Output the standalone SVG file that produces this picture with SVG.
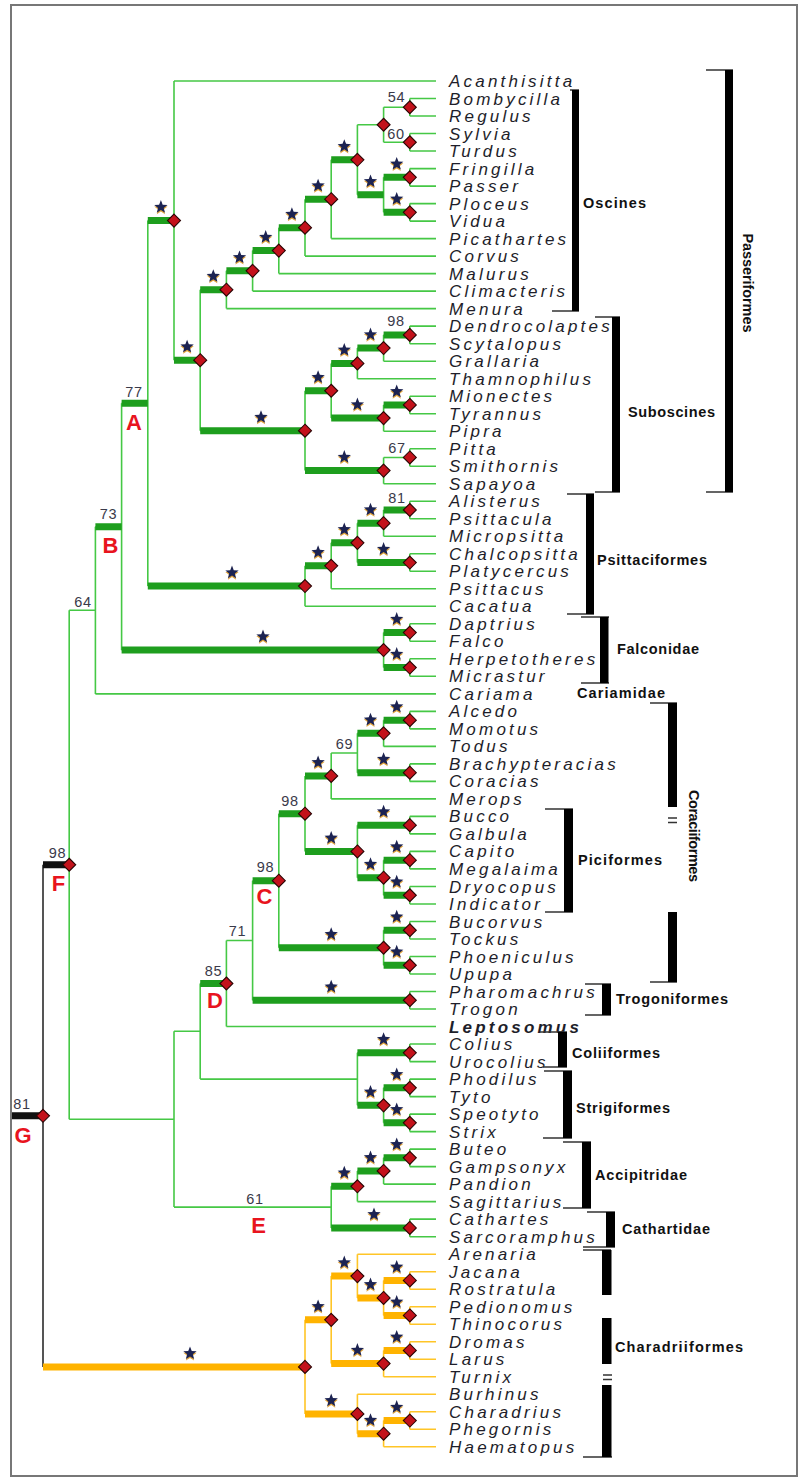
<svg xmlns="http://www.w3.org/2000/svg" xmlns:xlink="http://www.w3.org/1999/xlink" width="802" height="1479" viewBox="0 0 802 1479">
<style>
.t{fill:none;stroke:#45c845;stroke-width:1.6}
.to{fill:none;stroke:#ffc527;stroke-width:1.6}
.k{fill:none;stroke:#1e9e1e;stroke-width:7}
.ko{fill:none;stroke:#ffb300;stroke-width:7}
.kb{fill:none;stroke:#111;stroke-width:7}
.gv{fill:none;stroke:#555;stroke-width:2}
.br{fill:#000}
.tk{fill:none;stroke:#333;stroke-width:1.5}
.tx{font-family:"Liberation Sans",Arial,sans-serif;font-style:italic;font-size:17px;letter-spacing:3.2px;fill:#1e1e2a}
.bs{font-family:"Liberation Sans",Arial,sans-serif;font-size:14.5px;letter-spacing:0.8px;fill:#3a3a4a;text-anchor:middle}
.rl{font-family:"Liberation Sans",Arial,sans-serif;font-size:22px;font-weight:bold;fill:#e8141e;text-anchor:middle}
.cl{font-family:"Liberation Sans",Arial,sans-serif;font-size:14.5px;font-weight:bold;fill:#111}
</style>
<defs>
<polygon id="dm" points="0,-6.5 6.5,0 0,6.5 -6.5,0" fill="#c3121b" stroke="#2b0505" stroke-width="1.1"/>
<g id="st">
<polygon transform="translate(0,1.5)" fill="#e0a33a" points="0,-7 1.76,-2.43 6.66,-2.16 2.85,0.93 4.11,5.66 0,3 -4.11,5.66 -2.85,0.93 -6.66,-2.16 -1.76,-2.43"/>
<polygon fill="#1c2352" points="0,-7 1.76,-2.43 6.66,-2.16 2.85,0.93 4.11,5.66 0,3 -4.11,5.66 -2.85,0.93 -6.66,-2.16 -1.76,-2.43"/>
</g>
</defs>
<rect width="802" height="1479" fill="#fff"/>
<rect x="11" y="5" width="786" height="1471" fill="none" stroke="#777" stroke-width="2"/>

<g id="connectors">
<path class="t" d="M409.8 98.5V116M409.8 98.5H436M409.8 116H436
M409.8 133.5V151M409.8 133.5H436M409.8 151H436
M383.6 107.25V142.25M383.6 107.25H409.8M383.6 142.25H409.8
M409.8 168.6V186.1M409.8 168.6H436M409.8 186.1H436
M409.8 203.6V221.1M409.8 203.6H436M409.8 221.1H436
M383.6 177.35V212.35M383.6 177.35H409.8M383.6 212.35H409.8
M357.4 124.75V194.85M357.4 124.75H383.6M357.4 194.85H383.6
M331.2 159.8V238.6M331.2 159.8H357.4M331.2 238.6H436
M305 199.2V256.1M305 199.2H331.2M305 256.1H436
M278.8 227.65V273.6M278.8 227.65H305M278.8 273.6H436
M252.6 250.6V291.1M252.6 250.6H278.8M252.6 291.1H436
M226.4 270.85V308.6M226.4 270.85H252.6M226.4 308.6H436
M409.8 326.1V343.7M409.8 326.1H436M409.8 343.7H436
M383.6 334.9V361.2M383.6 334.9H409.8M383.6 361.2H436
M357.4 348.05V378.7M357.4 348.05H383.6M357.4 378.7H436
M409.8 396.2V413.7M409.8 396.2H436M409.8 413.7H436
M383.6 404.95V431.2M383.6 404.95H409.8M383.6 431.2H436
M331.2 363.4V418.1M331.2 363.4H357.4M331.2 418.1H383.6
M409.8 448.7V466.2M409.8 448.7H436M409.8 466.2H436
M383.6 457.45V483.7M383.6 457.45H409.8M383.6 483.7H436
M305 390.75V470.6M305 390.75H331.2M305 470.6H383.6
M200.2 289.7V430.7M200.2 289.7H226.4M200.2 430.7H305
M174 81V360.2M174 81H436M174 360.2H200.2
M409.8 501.2V518.8M409.8 501.2H436M409.8 518.8H436
M383.6 510V536.3M383.6 510H409.8M383.6 536.3H436
M409.8 553.8V571.3M409.8 553.8H436M409.8 571.3H436
M357.4 523.15V562.55M357.4 523.15H383.6M357.4 562.55H409.8
M331.2 542.85V588.8M331.2 542.85H357.4M331.2 588.8H436
M305 565.8V606.3M305 565.8H331.2M305 606.3H436
M147.8 220.6V586.05M147.8 220.6H174M147.8 586.05H305
M409.8 623.8V641.3M409.8 623.8H436M409.8 641.3H436
M409.8 658.8V676.3M409.8 658.8H436M409.8 676.3H436
M383.6 632.55V667.55M383.6 632.55H409.8M383.6 667.55H409.8
M121.6 403.3V650.05M121.6 403.3H147.8M121.6 650.05H383.6
M95.4 526.7V693.9M95.4 526.7H121.6M95.4 693.9H436
M409.8 711.4V728.9M409.8 711.4H436M409.8 728.9H436
M383.6 720.15V746.4M383.6 720.15H409.8M383.6 746.4H436
M409.8 763.9V781.4M409.8 763.9H436M409.8 781.4H436
M357.4 733.3V772.65M357.4 733.3H383.6M357.4 772.65H409.8
M331.2 752.95V798.9M331.2 752.95H357.4M331.2 798.9H436
M409.8 816.4V833.9M409.8 816.4H436M409.8 833.9H436
M409.8 851.4V868.9M409.8 851.4H436M409.8 868.9H436
M409.8 886.5V904M409.8 886.5H436M409.8 904H436
M383.6 860.15V895.25M383.6 860.15H409.8M383.6 895.25H409.8
M357.4 825.15V877.7M357.4 825.15H409.8M357.4 877.7H383.6
M305 775.9V851.45M305 775.9H331.2M305 851.45H357.4
M409.8 921.5V939M409.8 921.5H436M409.8 939H436
M409.8 956.5V974M409.8 956.5H436M409.8 974H436
M383.6 930.25V965.25M383.6 930.25H409.8M383.6 965.25H409.8
M278.8 813.7V947.75M278.8 813.7H305M278.8 947.75H383.6
M409.8 991.5V1009M409.8 991.5H436M409.8 1009H436
M252.6 880.7V1000.25M252.6 880.7H278.8M252.6 1000.25H409.8
M226.4 940.5V1026.5M226.4 940.5H252.6M226.4 1026.5H436
M409.8 1044V1061.6M409.8 1044H436M409.8 1061.6H436
M409.8 1079.1V1096.6M409.8 1079.1H436M409.8 1096.6H436
M409.8 1114.1V1131.6M409.8 1114.1H436M409.8 1131.6H436
M383.6 1087.85V1122.85M383.6 1087.85H409.8M383.6 1122.85H409.8
M357.4 1052.8V1105.35M357.4 1052.8H409.8M357.4 1105.35H383.6
M200.2 983.5V1079.1M200.2 983.5H226.4M200.2 1079.1H357.4
M409.8 1149.1V1166.6M409.8 1149.1H436M409.8 1166.6H436
M383.6 1157.85V1184.1M383.6 1157.85H409.8M383.6 1184.1H436
M357.4 1170.95V1201.6M357.4 1170.95H383.6M357.4 1201.6H436
M409.8 1219.1V1236.7M409.8 1219.1H436M409.8 1236.7H436
M331.2 1186.3V1227.9M331.2 1186.3H357.4M331.2 1227.9H409.8
M174 1031.3V1207.1M174 1031.3H200.2M174 1207.1H331.2
M69.2 610.3V1119.2M69.2 610.3H95.4M69.2 1119.2H174"/>
<path class="to" d="M409.8 1271.7V1289.2M409.8 1271.7H436M409.8 1289.2H436
M409.8 1306.7V1324.2M409.8 1306.7H436M409.8 1324.2H436
M383.6 1280.45V1315.45M383.6 1280.45H409.8M383.6 1315.45H409.8
M357.4 1254.2V1297.95M357.4 1254.2H436M357.4 1297.95H383.6
M409.8 1341.7V1359.2M409.8 1341.7H436M409.8 1359.2H436
M383.6 1350.45V1376.7M383.6 1350.45H409.8M383.6 1376.7H436
M331.2 1276.1V1363.6M331.2 1276.1H357.4M331.2 1363.6H383.6
M409.8 1411.8V1429.3M409.8 1411.8H436M409.8 1429.3H436
M383.6 1420.55V1446.8M383.6 1420.55H409.8M383.6 1446.8H436
M357.4 1394.2V1433.7M357.4 1394.2H436M357.4 1433.7H383.6
M305 1319.85V1413.95M305 1319.85H331.2M305 1413.95H357.4"/>
<path class="gv" d="M43 864.75V1366.9"/>
<path class="k" d="M383.6 177.35H409.8M383.6 212.35H409.8M357.4 194.85H383.6M331.2 159.8H357.4M305 199.2H331.2M278.8 227.65H305M252.6 250.6H278.8M226.4 270.85H252.6M200.2 289.7H226.4
M383.6 334.9H409.8M357.4 348.05H383.6M331.2 363.4H357.4M383.6 404.95H409.8M331.2 418.1H383.6M305 390.75H331.2M305 470.6H383.6M200.2 430.7H305M174 360.2H200.2M147.8 220.6H174
M383.6 510H409.8M357.4 523.15H383.6M357.4 562.55H409.8M331.2 542.85H357.4M305 565.8H331.2M147.8 586.05H305M121.6 403.3H147.8
M383.6 632.55H409.8M383.6 667.55H409.8M121.6 650.05H383.6M95.4 526.7H121.6
M383.6 720.15H409.8M357.4 733.3H383.6M357.4 772.65H409.8M305 775.9H331.2M357.4 825.15H409.8M383.6 860.15H409.8M383.6 895.25H409.8M357.4 877.7H383.6M305 851.45H357.4M278.8 813.7H305
M383.6 930.25H409.8M383.6 965.25H409.8M278.8 947.75H383.6M252.6 880.7H278.8M252.6 1000.25H409.8M200.2 983.5H226.4
M357.4 1052.8H409.8M383.6 1087.85H409.8M383.6 1122.85H409.8M357.4 1105.35H383.6
M383.6 1157.85H409.8M357.4 1170.95H383.6M331.2 1186.3H357.4M331.2 1227.9H409.8"/>
<path class="ko" d="M383.6 1280.45H409.8M383.6 1315.45H409.8M357.4 1297.95H383.6M331.2 1276.1H357.4M383.6 1350.45H409.8M331.2 1363.6H383.6M305 1319.85H331.2M383.6 1420.55H409.8M357.4 1433.7H383.6M305 1413.95H357.4M43 1366.9H305"/>
<path class="kb" d="M43 864.75H69.2M12 1115.8H43"/>
</g>

<g id="internal-nodes">
<g id="n-54"><use href="#dm" x="409.8" y="107.25"/><text class="bs" x="396.5" y="102">54</text></g>
<g id="n-60"><use href="#dm" x="409.8" y="142.25"/><text class="bs" x="396" y="139">60</text></g>
<g id="n-Os7"><use href="#dm" x="383.6" y="124.75"/></g>
<g id="n-FrPa"><use href="#dm" x="409.8" y="177.35"/><use href="#st" x="396.7" y="163.9"/></g>
<g id="n-PlVi"><use href="#dm" x="409.8" y="212.35"/><use href="#st" x="396.7" y="198.9"/></g>
<g id="n-Os8"><use href="#st" x="370.5" y="181.4"/></g>
<g id="n-Os6"><use href="#dm" x="357.4" y="159.8"/><use href="#st" x="344.3" y="146.3"/></g>
<g id="n-Os5"><use href="#dm" x="331.2" y="199.2"/><use href="#st" x="318.1" y="185.7"/></g>
<g id="n-Os4"><use href="#dm" x="305" y="227.65"/><use href="#st" x="291.9" y="214.2"/></g>
<g id="n-Os3"><use href="#dm" x="278.8" y="250.6"/><use href="#st" x="265.7" y="237.1"/></g>
<g id="n-Os2"><use href="#dm" x="252.6" y="270.85"/><use href="#st" x="239.5" y="257.4"/></g>
<g id="n-Oscines"><use href="#dm" x="226.4" y="289.7"/><use href="#st" x="213.3" y="276.2"/></g>
<g id="n-Su98"><use href="#dm" x="409.8" y="334.9"/><text class="bs" x="396" y="326">98</text></g>
<g id="n-Su6"><use href="#dm" x="383.6" y="348.05"/><use href="#st" x="370.5" y="334.6"/></g>
<g id="n-Su4"><use href="#dm" x="357.4" y="363.4"/><use href="#st" x="344.3" y="349.9"/></g>
<g id="n-MT"><use href="#dm" x="409.8" y="404.95"/><use href="#st" x="396.7" y="391.5"/></g>
<g id="n-Su5"><use href="#dm" x="383.6" y="418.1"/><use href="#st" x="357.4" y="404.6"/></g>
<g id="n-Su2"><use href="#dm" x="331.2" y="390.75"/><use href="#st" x="318.1" y="377.3"/></g>
<g id="n-67"><use href="#dm" x="409.8" y="457.45"/><text class="bs" x="397" y="453">67</text></g>
<g id="n-Su3"><use href="#dm" x="383.6" y="470.6"/><use href="#st" x="344.3" y="457.1"/></g>
<g id="n-Suboscines"><use href="#dm" x="305" y="430.7"/><use href="#st" x="261" y="417.2"/></g>
<g id="n-OsSub"><use href="#dm" x="200.2" y="360.2"/><use href="#st" x="187.1" y="346.7"/></g>
<g id="n-Passeriformes"><use href="#dm" x="174" y="220.6"/><use href="#st" x="160.9" y="207.1"/></g>
<g id="n-81"><use href="#dm" x="409.8" y="510"/><text class="bs" x="397" y="503">81</text></g>
<g id="n-Ps2"><use href="#dm" x="383.6" y="523.15"/><use href="#st" x="370.5" y="509.7"/></g>
<g id="n-CP"><use href="#dm" x="409.8" y="562.55"/><use href="#st" x="383.6" y="549.1"/></g>
<g id="n-Ps3"><use href="#dm" x="357.4" y="542.85"/><use href="#st" x="344.3" y="529.4"/></g>
<g id="n-Ps4"><use href="#dm" x="331.2" y="565.8"/><use href="#st" x="318.1" y="552.3"/></g>
<g id="n-Psittaciformes"><use href="#dm" x="305" y="586.05"/><use href="#st" x="232" y="572.6"/></g>
<g id="n-A"><text class="bs" x="134" y="397">77</text><text class="rl" x="134" y="430">A</text></g>
<g id="n-DF"><use href="#dm" x="409.8" y="632.55"/><use href="#st" x="396.7" y="619.1"/></g>
<g id="n-HM"><use href="#dm" x="409.8" y="667.55"/><use href="#st" x="396.7" y="654.1"/></g>
<g id="n-Falconidae"><use href="#dm" x="383.6" y="650.05"/><use href="#st" x="263" y="636.6"/></g>
<g id="n-B"><text class="bs" x="108.5" y="519">73</text><text class="rl" x="110.5" y="553">B</text></g>
<g id="n-64"><text class="bs" x="83" y="607">64</text></g>
<g id="n-AM"><use href="#dm" x="409.8" y="720.15"/><use href="#st" x="396.7" y="706.7"/></g>
<g id="n-AMT"><use href="#dm" x="383.6" y="733.3"/><use href="#st" x="370.5" y="719.8"/></g>
<g id="n-BC"><use href="#dm" x="409.8" y="772.65"/><use href="#st" x="383.6" y="759.2"/></g>
<g id="n-69"><text class="bs" x="344.5" y="749">69</text></g>
<g id="n-CoR"><use href="#dm" x="331.2" y="775.9"/><use href="#st" x="318.1" y="762.4"/></g>
<g id="n-BG"><use href="#dm" x="409.8" y="825.15"/><use href="#st" x="383.6" y="811.7"/></g>
<g id="n-CM"><use href="#dm" x="409.8" y="860.15"/><use href="#st" x="396.7" y="846.7"/></g>
<g id="n-DI"><use href="#dm" x="409.8" y="895.25"/><use href="#st" x="396.7" y="881.8"/></g>
<g id="n-CMDI"><use href="#dm" x="383.6" y="877.7"/><use href="#st" x="370.5" y="864.2"/></g>
<g id="n-Piciformes"><use href="#dm" x="357.4" y="851.45"/><use href="#st" x="331.2" y="838"/></g>
<g id="n-C98"><use href="#dm" x="305" y="813.7"/><text class="bs" x="290" y="806">98</text></g>
<g id="n-BT"><use href="#dm" x="409.8" y="930.25"/><use href="#st" x="396.7" y="916.8"/></g>
<g id="n-PU"><use href="#dm" x="409.8" y="965.25"/><use href="#st" x="396.7" y="951.8"/></g>
<g id="n-Bucerotes"><use href="#dm" x="383.6" y="947.75"/><use href="#st" x="331.2" y="934.3"/></g>
<g id="n-C"><use href="#dm" x="278.8" y="880.7"/><text class="bs" x="265.5" y="872">98</text><text class="rl" x="264.5" y="904">C</text></g>
<g id="n-Trogoniformes"><use href="#dm" x="409.8" y="1000.25"/><use href="#st" x="331.2" y="986.8"/></g>
<g id="n-71"><text class="bs" x="237.5" y="936">71</text></g>
<g id="n-D"><use href="#dm" x="226.4" y="983.5"/><text class="bs" x="213.5" y="976">85</text><text class="rl" x="215" y="1008">D</text></g>
<g id="n-Coliiformes"><use href="#dm" x="409.8" y="1052.8"/><use href="#st" x="383.6" y="1039.3"/></g>
<g id="n-PT"><use href="#dm" x="409.8" y="1087.85"/><use href="#st" x="396.7" y="1074.4"/></g>
<g id="n-SS"><use href="#dm" x="409.8" y="1122.85"/><use href="#st" x="396.7" y="1109.4"/></g>
<g id="n-Strigiformes"><use href="#dm" x="383.6" y="1105.35"/><use href="#st" x="370.5" y="1091.9"/></g>
<g id="n-BuG"><use href="#dm" x="409.8" y="1157.85"/><use href="#st" x="396.7" y="1144.4"/></g>
<g id="n-BGP"><use href="#dm" x="383.6" y="1170.95"/><use href="#st" x="370.5" y="1157.5"/></g>
<g id="n-Accipitridae"><use href="#dm" x="357.4" y="1186.3"/><use href="#st" x="344.3" y="1172.8"/></g>
<g id="n-Cathartidae"><use href="#dm" x="409.8" y="1227.9"/><use href="#st" x="374" y="1214.4"/></g>
<g id="n-E"><text class="bs" x="255" y="1204">61</text><text class="rl" x="258.5" y="1233">E</text></g>
<g id="n-F"><use href="#dm" x="69.2" y="864.75"/><text class="bs" x="57.5" y="858">98</text><text class="rl" x="58.5" y="891">F</text></g>
<g id="n-G"><use href="#dm" x="43" y="1115.8"/><text class="bs" x="22" y="1109">81</text><text class="rl" x="23" y="1143">G</text></g>
<g id="n-JR"><use href="#dm" x="409.8" y="1280.45"/><use href="#st" x="396.7" y="1267"/></g>
<g id="n-PeT"><use href="#dm" x="409.8" y="1315.45"/><use href="#st" x="396.7" y="1302"/></g>
<g id="n-JRPT"><use href="#dm" x="383.6" y="1297.95"/><use href="#st" x="370.5" y="1284.5"/></g>
<g id="n-Ch2"><use href="#dm" x="357.4" y="1276.1"/><use href="#st" x="344.3" y="1262.6"/></g>
<g id="n-DL"><use href="#dm" x="409.8" y="1350.45"/><use href="#st" x="396.7" y="1337"/></g>
<g id="n-DLT"><use href="#dm" x="383.6" y="1363.6"/><use href="#st" x="357.4" y="1350.1"/></g>
<g id="n-Ch1"><use href="#dm" x="331.2" y="1319.85"/><use href="#st" x="318.1" y="1306.4"/></g>
<g id="n-ChP"><use href="#dm" x="409.8" y="1420.55"/><use href="#st" x="396.7" y="1407.1"/></g>
<g id="n-ChPH"><use href="#dm" x="383.6" y="1433.7"/><use href="#st" x="370.5" y="1420.2"/></g>
<g id="n-BuCh"><use href="#dm" x="357.4" y="1413.95"/><use href="#st" x="331.2" y="1400.5"/></g>
<g id="n-Charadriiformes"><use href="#dm" x="305" y="1366.9"/><use href="#st" x="190" y="1353.4"/></g>
</g>

<g id="leaves">
<g id="l-Acanthisitta"><text class="tx" x="449" y="87">Acanthisitta</text></g>
<g id="l-Bombycilla"><text class="tx" x="449" y="104.5">Bombycilla</text></g>
<g id="l-Regulus"><text class="tx" x="449" y="122">Regulus</text></g>
<g id="l-Sylvia"><text class="tx" x="449" y="139.5">Sylvia</text></g>
<g id="l-Turdus"><text class="tx" x="449" y="157">Turdus</text></g>
<g id="l-Fringilla"><text class="tx" x="449" y="174.6">Fringilla</text></g>
<g id="l-Passer"><text class="tx" x="449" y="192.1">Passer</text></g>
<g id="l-Ploceus"><text class="tx" x="449" y="209.6">Ploceus</text></g>
<g id="l-Vidua"><text class="tx" x="449" y="227.1">Vidua</text></g>
<g id="l-Picathartes"><text class="tx" x="449" y="244.6">Picathartes</text></g>
<g id="l-Corvus"><text class="tx" x="449" y="262.1">Corvus</text></g>
<g id="l-Malurus"><text class="tx" x="449" y="279.6">Malurus</text></g>
<g id="l-Climacteris"><text class="tx" x="449" y="297.1">Climacteris</text></g>
<g id="l-Menura"><text class="tx" x="449" y="314.6">Menura</text></g>
<g id="l-Dendrocolaptes"><text class="tx" x="449" y="332.1">Dendrocolaptes</text></g>
<g id="l-Scytalopus"><text class="tx" x="449" y="349.7">Scytalopus</text></g>
<g id="l-Grallaria"><text class="tx" x="449" y="367.2">Grallaria</text></g>
<g id="l-Thamnophilus"><text class="tx" x="449" y="384.7">Thamnophilus</text></g>
<g id="l-Mionectes"><text class="tx" x="449" y="402.2">Mionectes</text></g>
<g id="l-Tyrannus"><text class="tx" x="449" y="419.7">Tyrannus</text></g>
<g id="l-Pipra"><text class="tx" x="449" y="437.2">Pipra</text></g>
<g id="l-Pitta"><text class="tx" x="449" y="454.7">Pitta</text></g>
<g id="l-Smithornis"><text class="tx" x="449" y="472.2">Smithornis</text></g>
<g id="l-Sapayoa"><text class="tx" x="449" y="489.7">Sapayoa</text></g>
<g id="l-Alisterus"><text class="tx" x="449" y="507.2">Alisterus</text></g>
<g id="l-Psittacula"><text class="tx" x="449" y="524.8">Psittacula</text></g>
<g id="l-Micropsitta"><text class="tx" x="449" y="542.3">Micropsitta</text></g>
<g id="l-Chalcopsitta"><text class="tx" x="449" y="559.8">Chalcopsitta</text></g>
<g id="l-Platycercus"><text class="tx" x="449" y="577.3">Platycercus</text></g>
<g id="l-Psittacus"><text class="tx" x="449" y="594.8">Psittacus</text></g>
<g id="l-Cacatua"><text class="tx" x="449" y="612.3">Cacatua</text></g>
<g id="l-Daptrius"><text class="tx" x="449" y="629.8">Daptrius</text></g>
<g id="l-Falco"><text class="tx" x="449" y="647.3">Falco</text></g>
<g id="l-Herpetotheres"><text class="tx" x="449" y="664.8">Herpetotheres</text></g>
<g id="l-Micrastur"><text class="tx" x="449" y="682.3">Micrastur</text></g>
<g id="l-Cariama"><text class="tx" x="449" y="699.9">Cariama</text></g>
<g id="l-Alcedo"><text class="tx" x="449" y="717.4">Alcedo</text></g>
<g id="l-Momotus"><text class="tx" x="449" y="734.9">Momotus</text></g>
<g id="l-Todus"><text class="tx" x="449" y="752.4">Todus</text></g>
<g id="l-Brachypteracias"><text class="tx" x="449" y="769.9">Brachypteracias</text></g>
<g id="l-Coracias"><text class="tx" x="449" y="787.4">Coracias</text></g>
<g id="l-Merops"><text class="tx" x="449" y="804.9">Merops</text></g>
<g id="l-Bucco"><text class="tx" x="449" y="822.4">Bucco</text></g>
<g id="l-Galbula"><text class="tx" x="449" y="839.9">Galbula</text></g>
<g id="l-Capito"><text class="tx" x="449" y="857.4">Capito</text></g>
<g id="l-Megalaima"><text class="tx" x="449" y="874.9">Megalaima</text></g>
<g id="l-Dryocopus"><text class="tx" x="449" y="892.5">Dryocopus</text></g>
<g id="l-Indicator"><text class="tx" x="449" y="910">Indicator</text></g>
<g id="l-Bucorvus"><text class="tx" x="449" y="927.5">Bucorvus</text></g>
<g id="l-Tockus"><text class="tx" x="449" y="945">Tockus</text></g>
<g id="l-Phoeniculus"><text class="tx" x="449" y="962.5">Phoeniculus</text></g>
<g id="l-Upupa"><text class="tx" x="449" y="980">Upupa</text></g>
<g id="l-Pharomachrus"><text class="tx" x="449" y="997.5">Pharomachrus</text></g>
<g id="l-Trogon"><text class="tx" x="449" y="1015">Trogon</text></g>
<g id="l-Leptosomus"><text class="tx" x="449" y="1032.5" font-weight="bold">Leptosomus</text></g>
<g id="l-Colius"><text class="tx" x="449" y="1050">Colius</text></g>
<g id="l-Urocolius"><text class="tx" x="449" y="1067.6">Urocolius</text></g>
<g id="l-Phodilus"><text class="tx" x="449" y="1085.1">Phodilus</text></g>
<g id="l-Tyto"><text class="tx" x="449" y="1102.6">Tyto</text></g>
<g id="l-Speotyto"><text class="tx" x="449" y="1120.1">Speotyto</text></g>
<g id="l-Strix"><text class="tx" x="449" y="1137.6">Strix</text></g>
<g id="l-Buteo"><text class="tx" x="449" y="1155.1">Buteo</text></g>
<g id="l-Gampsonyx"><text class="tx" x="449" y="1172.6">Gampsonyx</text></g>
<g id="l-Pandion"><text class="tx" x="449" y="1190.1">Pandion</text></g>
<g id="l-Sagittarius"><text class="tx" x="449" y="1207.6">Sagittarius</text></g>
<g id="l-Cathartes"><text class="tx" x="449" y="1225.1">Cathartes</text></g>
<g id="l-Sarcoramphus"><text class="tx" x="449" y="1242.7">Sarcoramphus</text></g>
<g id="l-Arenaria"><text class="tx" x="449" y="1260.2">Arenaria</text></g>
<g id="l-Jacana"><text class="tx" x="449" y="1277.7">Jacana</text></g>
<g id="l-Rostratula"><text class="tx" x="449" y="1295.2">Rostratula</text></g>
<g id="l-Pedionomus"><text class="tx" x="449" y="1312.7">Pedionomus</text></g>
<g id="l-Thinocorus"><text class="tx" x="449" y="1330.2">Thinocorus</text></g>
<g id="l-Dromas"><text class="tx" x="449" y="1347.7">Dromas</text></g>
<g id="l-Larus"><text class="tx" x="449" y="1365.2">Larus</text></g>
<g id="l-Turnix"><text class="tx" x="449" y="1382.7">Turnix</text></g>
<g id="l-Burhinus"><text class="tx" x="449" y="1400.2">Burhinus</text></g>
<g id="l-Charadrius"><text class="tx" x="449" y="1417.8">Charadrius</text></g>
<g id="l-Phegornis"><text class="tx" x="449" y="1435.3">Phegornis</text></g>
<g id="l-Haematopus"><text class="tx" x="449" y="1452.8">Haematopus</text></g>
</g>

<g id="clades">
<path class="tk" d="M570 90H579M552 311H579M595 317H620M595 492H620M706 70H733M706 492H733M567 494H594M567 614H594M581 617H609M581 683H609M650 703H677M668 818H677M668 822.5H677M650 982H677M545 809H573M545 912H573M585 984H611M585 1015H611M540 1032H567M543 1067H567M544 1071H572M543 1138H572M563 1142H591M563 1208H591M587 1212H615M583 1247H615M583 1250H611M603 1375H612M603 1379.5H612M583 1457H612"/>
<rect class="br" x="572" y="90" width="7" height="221"/>
<rect class="br" x="612" y="317" width="8" height="175"/>
<rect class="br" x="725" y="70" width="8" height="422"/>
<rect class="br" x="586" y="494" width="8" height="120"/>
<rect class="br" x="600" y="617" width="8.5" height="66"/>
<rect class="br" x="668" y="703" width="9" height="104"/>
<rect class="br" x="668" y="912" width="9" height="70"/>
<rect class="br" x="564" y="809" width="9" height="103"/>
<rect class="br" x="602" y="984" width="9" height="31"/>
<rect class="br" x="558" y="1032" width="9" height="35"/>
<rect class="br" x="563" y="1071" width="9" height="67"/>
<rect class="br" x="582" y="1142" width="9" height="66"/>
<rect class="br" x="606" y="1212" width="9" height="35"/>
<rect class="br" x="602" y="1250" width="9.5" height="45"/>
<rect class="br" x="602" y="1318" width="9.5" height="46"/>
<rect class="br" x="602" y="1385" width="9.5" height="72"/>
<text class="cl" x="583" y="208" textLength="63" lengthAdjust="spacing">Oscines</text>
<text class="cl" x="628" y="417" textLength="87" lengthAdjust="spacing">Suboscines</text>
<text class="cl" x="597" y="565" textLength="110" lengthAdjust="spacing">Psittaciformes</text>
<text class="cl" x="617" y="654" textLength="82" lengthAdjust="spacing">Falconidae</text>
<text class="cl" x="577" y="698" textLength="88" lengthAdjust="spacing">Cariamidae</text>
<text class="cl" x="578" y="865" textLength="84" lengthAdjust="spacing">Piciformes</text>
<text class="cl" x="616" y="1004" textLength="112" lengthAdjust="spacing">Trogoniformes</text>
<text class="cl" x="572" y="1058" textLength="88" lengthAdjust="spacing">Coliiformes</text>
<text class="cl" x="576" y="1113" textLength="94" lengthAdjust="spacing">Strigiformes</text>
<text class="cl" x="595" y="1180" textLength="92" lengthAdjust="spacing">Accipitridae</text>
<text class="cl" x="622" y="1234" textLength="88" lengthAdjust="spacing">Cathartidae</text>
<text class="cl" x="615" y="1352" textLength="128" lengthAdjust="spacing">Charadriiformes</text>
<text class="cl" transform="translate(748,283) rotate(90)" x="0" y="5" text-anchor="middle" textLength="99" lengthAdjust="spacing">Passeriformes</text>
<text class="cl" transform="translate(694,836) rotate(90)" x="0" y="5" text-anchor="middle" textLength="92" lengthAdjust="spacing">Coraciiformes</text>
</g>
</svg>
